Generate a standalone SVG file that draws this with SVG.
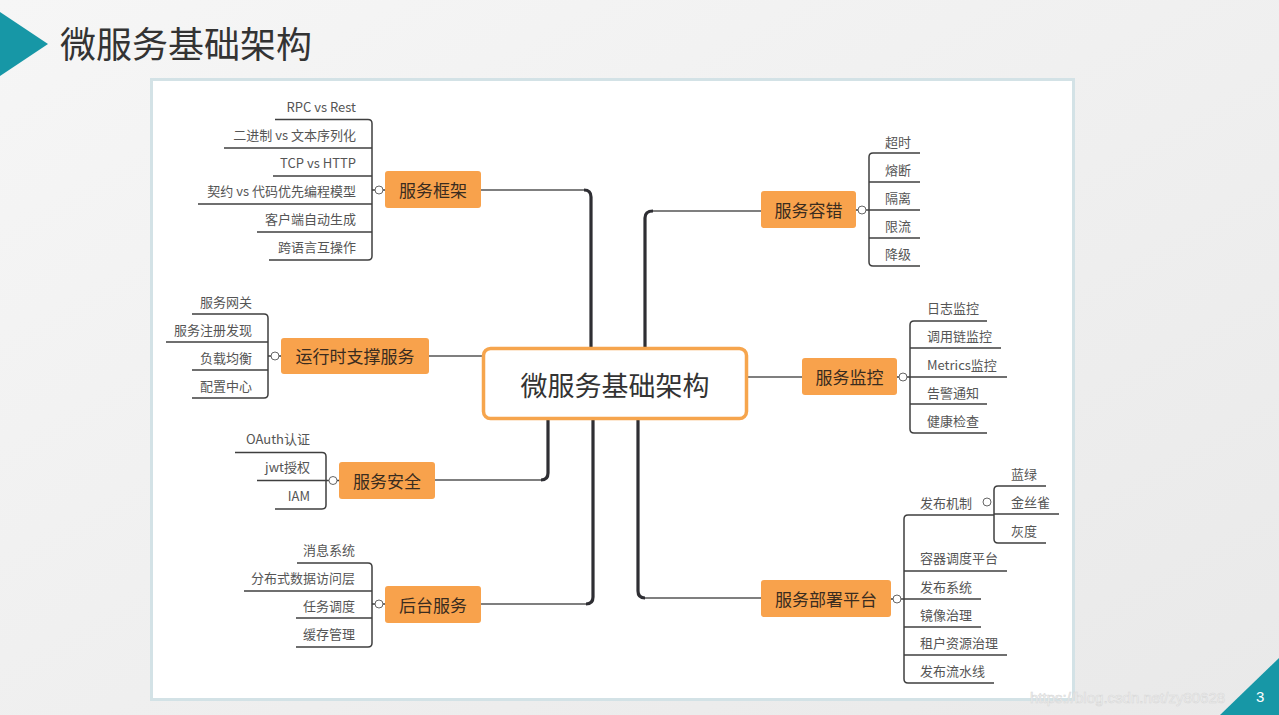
<svg xmlns="http://www.w3.org/2000/svg" width="1279" height="715" viewBox="0 0 1279 715">
<defs>
<linearGradient id="bg" x1="0" y1="0" x2="1" y2="1">
<stop offset="0" stop-color="#f6f6f6"/>
<stop offset="1" stop-color="#e9e9e9"/>
</linearGradient>
<style>
text{font-family:"Noto Sans CJK SC","Noto Sans",sans-serif;}
.leaf{font-size:13px;fill:#555;dominant-baseline:central;}
.lr{text-anchor:end;}
.node rect{fill:#f8a24c;}
.node text{font-size:17px;fill:#3a2c1f;text-anchor:middle;dominant-baseline:central;}
.br{fill:none;stroke:#3f3f3f;stroke-width:1.5;}
.ul{stroke:#3f3f3f;stroke-width:1.5;}
.dot{fill:#fff;stroke:#666;stroke-width:1;}
.thin{fill:none;stroke:#555;stroke-width:1.3;}
.thick{fill:none;stroke:#2e2e33;stroke-width:3.2;}
</style>
</defs>
<rect width="1279" height="715" fill="url(#bg)"/>
<polygon points="0,12 48,44 0,76" fill="#1797a6"/>
<text x="60" y="58" font-size="36" fill="#333">微服务基础架构</text>
<rect x="151.5" y="79.5" width="922" height="620" fill="#fff" stroke="#d3e2e6" stroke-width="3"/>

<g id="connectors">
<path class="thin" d="M481,190 H585"/>
<path class="thick" d="M584,190 Q591,190 591,197 V349"/>
<path class="thin" d="M761,211 H652"/>
<path class="thick" d="M653,211 Q645,211 645,218 V349"/>
<path class="thin" d="M435,480 H542"/>
<path class="thick" d="M541,480 Q548,480 548,473 V418"/>
<path class="thin" d="M481,604 H587"/>
<path class="thick" d="M586,604 Q593,604 593,597 V418"/>
<path class="thin" d="M761,598 H644"/>
<path class="thick" d="M645,598 Q638,598 638,591 V418"/>
<path class="thin" d="M429,356 H483"/>
<path class="thin" d="M747,377 H802"/>
</g>

<g id="center">
<rect x="483.5" y="348.5" width="263" height="70" rx="7" fill="#fff" stroke="#f6a54d" stroke-width="3.5"/>
<text x="615" y="384" font-size="27" fill="#333" text-anchor="middle" dominant-baseline="central">微服务基础架构</text>
</g>

<!-- 服务框架 -->
<g id="n-kuangjia" class="node">
<rect x="385" y="171" width="96" height="37" rx="3"/>
<text x="433" y="189.5">服务框架</text>
</g>
<g id="l-kuangjia">
<path class="br" d="M275,119.5 H368 Q372,119.5 372,123.5 V256 Q372,260 368,260 H269"/>
<line class="ul" x1="224" y1="148" x2="372" y2="148"/>
<line class="ul" x1="273" y1="176" x2="372" y2="176"/>
<line class="ul" x1="198" y1="204" x2="372" y2="204"/>
<line class="ul" x1="257" y1="232" x2="372" y2="232"/>
<line class="ul" x1="372" y1="190" x2="385" y2="190"/>
<circle class="dot" cx="379" cy="190" r="4"/>
<text class="leaf lr" x="356" y="106">RPC vs Rest</text>
<text class="leaf lr" x="356" y="134">二进制 vs 文本序列化</text>
<text class="leaf lr" x="356" y="162">TCP vs HTTP</text>
<text class="leaf lr" x="356" y="190">契约 vs 代码优先编程模型</text>
<text class="leaf lr" x="356" y="218">客户端自动生成</text>
<text class="leaf lr" x="356" y="246">跨语言互操作</text>
</g>

<!-- 运行时支撑服务 -->
<g id="n-yunxing" class="node">
<rect x="281" y="338" width="148" height="36" rx="3"/>
<text x="355" y="355.5">运行时支撑服务</text>
</g>
<g id="l-yunxing">
<path class="br" d="M192,314 H264 Q268,314 268,318 V394 Q268,398 264,398 H192"/>
<line class="ul" x1="166" y1="342" x2="268" y2="342"/>
<line class="ul" x1="192" y1="370" x2="268" y2="370"/>
<line class="ul" x1="268" y1="356" x2="281" y2="356"/>
<circle class="dot" cx="275" cy="356" r="4"/>
<text class="leaf lr" x="252" y="301">服务网关</text>
<text class="leaf lr" x="252" y="329">服务注册发现</text>
<text class="leaf lr" x="252" y="357">负载均衡</text>
<text class="leaf lr" x="252" y="385">配置中心</text>
</g>

<!-- 服务安全 -->
<g id="n-anquan" class="node">
<rect x="339" y="462" width="96" height="37" rx="3"/>
<text x="387" y="480.5">服务安全</text>
</g>
<g id="l-anquan">
<path class="br" d="M235,452.5 H322 Q326,452.5 326,456.5 V505 Q326,509 322,509 H275"/>
<line class="ul" x1="257" y1="480.5" x2="339" y2="480.5"/>
<circle class="dot" cx="333" cy="480.5" r="4"/>
<text class="leaf lr" x="310" y="438">OAuth认证</text>
<text class="leaf lr" x="310" y="466">jwt授权</text>
<text class="leaf lr" x="310" y="495">IAM</text>
</g>

<!-- 后台服务 -->
<g id="n-houtai" class="node">
<rect x="385" y="586" width="96" height="37" rx="3"/>
<text x="433" y="604">后台服务</text>
</g>
<g id="l-houtai">
<path class="br" d="M297,563 H368 Q372,563 372,567 V643 Q372,647 368,647 H296"/>
<line class="ul" x1="244" y1="591" x2="372" y2="591"/>
<line class="ul" x1="296" y1="618" x2="372" y2="618"/>
<line class="ul" x1="372" y1="604" x2="385" y2="604"/>
<circle class="dot" cx="379" cy="604" r="4"/>
<text class="leaf lr" x="355" y="549">消息系统</text>
<text class="leaf lr" x="355" y="577">分布式数据访问层</text>
<text class="leaf lr" x="355" y="605">任务调度</text>
<text class="leaf lr" x="355" y="633">缓存管理</text>
</g>

<!-- 服务容错 -->
<g id="n-rongcuo" class="node">
<rect x="761" y="191" width="95" height="37" rx="3"/>
<text x="808.5" y="209.5">服务容错</text>
</g>
<g id="l-rongcuo">
<path class="br" d="M920,153 H873 Q869,153 869,157 V262 Q869,266 873,266 H920"/>
<line class="ul" x1="869" y1="182" x2="920" y2="182"/>
<line class="ul" x1="856" y1="210" x2="920" y2="210"/>
<line class="ul" x1="869" y1="238" x2="920" y2="238"/>
<circle class="dot" cx="862" cy="210" r="4"/>
<text class="leaf" x="885" y="141">超时</text>
<text class="leaf" x="885" y="169">熔断</text>
<text class="leaf" x="885" y="197">隔离</text>
<text class="leaf" x="885" y="225">限流</text>
<text class="leaf" x="885" y="253">降级</text>
</g>

<!-- 服务监控 -->
<g id="n-jiankong" class="node">
<rect x="802" y="358" width="95" height="37" rx="3"/>
<text x="849.5" y="376.5">服务监控</text>
</g>
<g id="l-jiankong">
<path class="br" d="M987,321 H914 Q910,321 910,325 V429 Q910,433 914,433 H987"/>
<line class="ul" x1="910" y1="348" x2="1001" y2="348"/>
<line class="ul" x1="897" y1="377" x2="1007" y2="377"/>
<line class="ul" x1="910" y1="404" x2="987" y2="404"/>
<circle class="dot" cx="903" cy="377" r="4"/>
<text class="leaf" x="927" y="307">日志监控</text>
<text class="leaf" x="927" y="335">调用链监控</text>
<text class="leaf" x="927" y="364">Metrics监控</text>
<text class="leaf" x="927" y="392">告警通知</text>
<text class="leaf" x="927" y="420">健康检查</text>
</g>

<!-- 服务部署平台 -->
<g id="n-bushu" class="node">
<rect x="761" y="580" width="130" height="37" rx="3"/>
<text x="826" y="598.5">服务部署平台</text>
</g>
<g id="l-bushu">
<path class="br" d="M994,515 H908 Q904,515 904,519 V679 Q904,683 908,683 H994"/>
<line class="ul" x1="904" y1="571" x2="1007" y2="571"/>
<line class="ul" x1="891" y1="599" x2="981" y2="599"/>
<line class="ul" x1="904" y1="627" x2="981" y2="627"/>
<line class="ul" x1="904" y1="655" x2="1007" y2="655"/>
<circle class="dot" cx="897" cy="599" r="4"/>
<text class="leaf" x="920" y="502">发布机制</text>
<text class="leaf" x="920" y="557">容器调度平台</text>
<text class="leaf" x="920" y="586">发布系统</text>
<text class="leaf" x="920" y="614">镜像治理</text>
<text class="leaf" x="920" y="642">租户资源治理</text>
<text class="leaf" x="920" y="670">发布流水线</text>
</g>
<g id="l-fabu">
<path class="br" d="M1046,486 H998 Q994,486 994,490 V539 Q994,543 998,543 H1046"/>
<line class="ul" x1="994" y1="514" x2="1059" y2="514"/>
<circle class="dot" cx="987" cy="502" r="4"/>
<text class="leaf" x="1011" y="473">蓝绿</text>
<text class="leaf" x="1011" y="501">金丝雀</text>
<text class="leaf" x="1011" y="530">灰度</text>
</g>

<polygon points="1220,715 1279,658 1279,715" fill="#1797a6"/>
<text x="1030" y="703" font-size="15" fill="#f4f4f4" stroke="#d8d8d8" stroke-width="0.6" style="font-family:'Liberation Sans',sans-serif">https://blog.csdn.net/zy80628</text>
<text x="1256" y="702" font-size="15" fill="#fff" style="font-family:'Liberation Sans',sans-serif">3</text>
</svg>
